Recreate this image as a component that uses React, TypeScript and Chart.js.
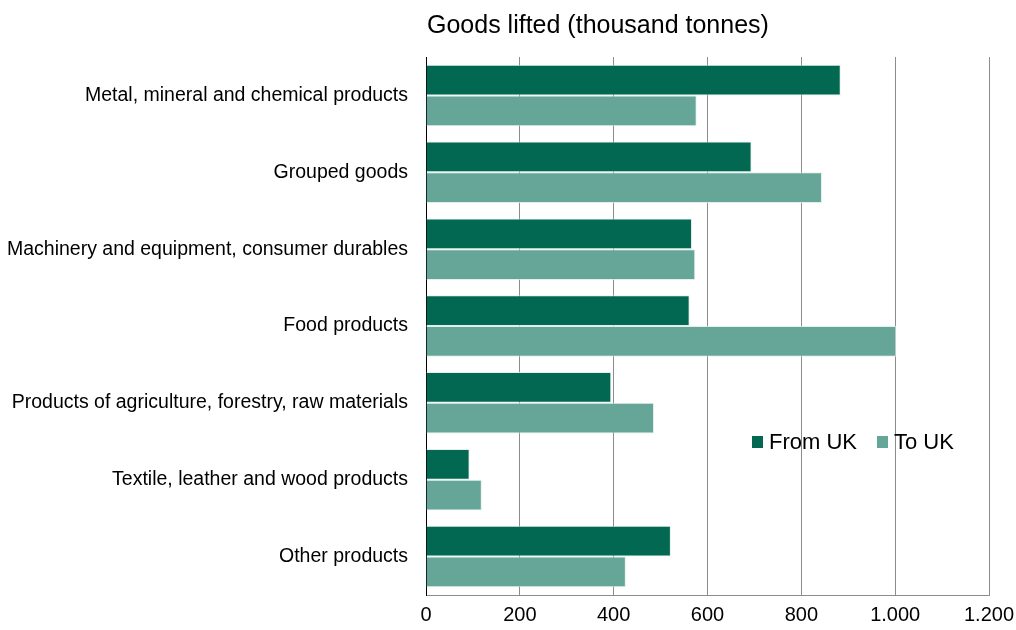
import React, { useEffect, useRef } from "react";
import { Chart, registerables } from "chart.js";

Chart.register(...registerables);

const categories = [
  "Metal, mineral and chemical products",
  "Grouped goods",
  "Machinery and equipment, consumer durables",
  "Food products",
  "Products of agriculture, forestry, raw materials",
  "Textile, leather and wood products",
  "Other products",
];
const fromUK = [884, 694, 567, 562, 395, 93, 522];
const toUK = [577, 844, 574, 1002, 486, 119, 426];
const xTicks = [0, 200, 400, 600, 800, 1000, 1200];
const titleText = "Goods lifted (thousand tonnes)";
const seriesNames = ["From UK", "To UK"];
const colors = ["#036852", "#66a699"];

const FONT = "'Liberation Sans', Arial, sans-serif";

const overlayPlugin = {
  id: "overlay",
  afterDraw(chart: any) {
    const ctx = chart.ctx;
    const area = chart.chartArea;
    ctx.save();
    ctx.fillStyle = "#000";
    ctx.font = `25px ${FONT}`;
    ctx.textAlign = "left";
    ctx.textBaseline = "middle";
    ctx.fillText(titleText, area.left + 1, 26);

    // legend
    ctx.font = `22px ${FONT}`;
    let x = 752;
    const y = 442;
    seriesNames.forEach((name, i) => {
      ctx.fillStyle = colors[i];
      ctx.fillRect(x, y - 6, 11, 12);
      ctx.fillStyle = "#000";
      ctx.fillText(name, x + 17, y + 1);
      x += 17 + ctx.measureText(name).width + 20;
    });
    ctx.restore();
  },
};

export default function App() {
  const ref = useRef<HTMLCanvasElement | null>(null);
  useEffect(() => {
    const canvas = ref.current;
    if (!canvas) return;
    const chart = new Chart(canvas, {
      type: "bar",
      data: {
        labels: categories,
        datasets: [
          {
            label: seriesNames[0],
            data: fromUK,
            backgroundColor: colors[0],
            borderColor: "rgba(220,235,230,0.8)",
            borderWidth: 1,
            categoryPercentage: 0.8,
            barPercentage: 1,
          },
          {
            label: seriesNames[1],
            data: toUK,
            backgroundColor: colors[1],
            borderColor: "rgba(220,235,230,0.8)",
            borderWidth: 1,
            categoryPercentage: 0.8,
            barPercentage: 1,
          },
        ],
      },
      options: {
        indexAxis: "y",
        animation: false,
        responsive: false,
        maintainAspectRatio: false,
        layout: { padding: { top: 57, right: 27, left: 0, bottom: 0 } },
        plugins: {
          legend: { display: false },
          title: { display: false },
          tooltip: { enabled: false },
        },
        scales: {
          x: {
            min: 0,
            max: 1200,
            afterBuildTicks: (scale: any) => {
              scale.ticks = xTicks.map((v) => ({ value: v }));
            },
            afterFit: (scale: any) => {
              scale.height = 35;
              scale.paddingRight = 0;
              scale.paddingLeft = 0;
            },
            grid: {
              display: true,
              color: "#8c8c8c",
              lineWidth: 1,
              drawTicks: false,
            },
            border: { display: true, color: "#8c8c8c", width: 1 },
            ticks: {
              padding: 8,
              color: "#000",
              font: { family: FONT, size: 20 },
              maxRotation: 0,
              callback: (v: any) =>
                Number(v).toLocaleString("en-US").replace(/,/g, "."),
            },
          },
          y: {
            afterFit: (scale: any) => {
              scale.width = 426;
              scale.paddingTop = 0;
              scale.paddingBottom = 0;
            },
            grid: { display: false, drawTicks: false },
            border: { display: true, color: "#000", width: 1 },
            ticks: {
              padding: 18,
              color: "#000",
              font: { family: FONT, size: 19.5 },
              autoSkip: false,
            },
          },
        },
      },
      plugins: [overlayPlugin],
    });
    return () => chart.destroy();
  }, []);
  return (
    <div style={{ position: "fixed", left: 0, top: 0, width: 1016, height: 630, background: "#fff" }}>
      <canvas ref={ref} width={1016} height={630} style={{ width: 1016, height: 630 }} />
    </div>
  );
}
